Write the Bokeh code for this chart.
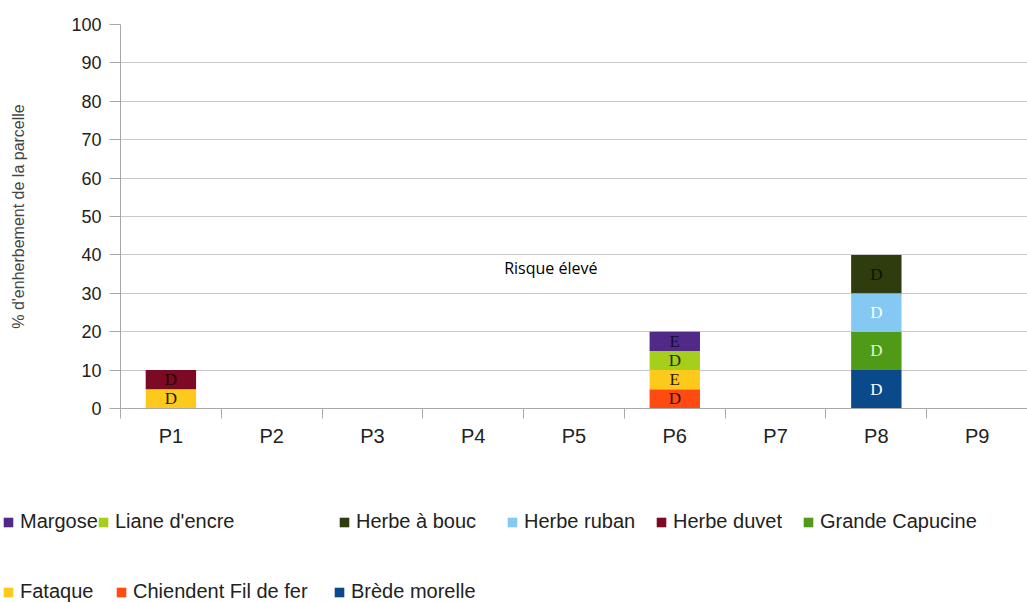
from bokeh.plotting import figure
from bokeh.layouts import column
from bokeh.models import (Range1d, LinearAxis, FixedTicker,
                          Legend, LegendItem, Label, ColumnDataSource, SingleIntervalTicker)
from bokeh.core.properties import value
from bokeh.embed import file_html
from bokeh.resources import INLINE

# ---------------- data ----------------
parcels = ["P1", "P2", "P3", "P4", "P5", "P6", "P7", "P8", "P9"]

# stacking order (bottom -> top)
species = ["Brède morelle", "Chiendent Fil de fer", "Fataque", "Grande Capucine",
           "Herbe duvet", "Herbe ruban", "Herbe à bouc", "Liane d'encre", "Margose"]

brede_morelle   = [0, 0, 0, 0, 0, 0, 0, 10, 0]
chiendent       = [0, 0, 0, 0, 0, 5, 0, 0, 0]
fataque         = [5, 0, 0, 0, 0, 5, 0, 0, 0]
grande_capucine = [0, 0, 0, 0, 0, 0, 0, 10, 0]
herbe_duvet     = [5, 0, 0, 0, 0, 0, 0, 0, 0]
herbe_ruban     = [0, 0, 0, 0, 0, 0, 0, 10, 0]
herbe_a_bouc    = [0, 0, 0, 0, 0, 0, 0, 10, 0]
liane_encre     = [0, 0, 0, 0, 0, 5, 0, 0, 0]
margose         = [0, 0, 0, 0, 0, 5, 0, 0, 0]

# codes written inside the segments
brede_code     = ["", "", "", "", "", "", "", "D", ""]
chiendent_code = ["", "", "", "", "", "D", "", "", ""]
fataque_code   = ["D", "", "", "", "", "E", "", "", ""]
capucine_code  = ["", "", "", "", "", "", "", "D", ""]
duvet_code     = ["D", "", "", "", "", "", "", "", ""]
ruban_code     = ["", "", "", "", "", "", "", "D", ""]
bouc_code      = ["", "", "", "", "", "", "", "D", ""]
liane_code     = ["", "", "", "", "", "D", "", "", ""]
margose_code   = ["", "", "", "", "", "E", "", "", ""]

colors = ["#0b4a8a", "#ff4a12", "#fdca1c", "#4f9b17", "#7c0a24",
          "#84c9f4", "#2f3d0e", "#a6cf1b", "#502a86"]
code_colors = ["#ffffff", "#2a1200", "#2a1a00", "#e4f6cf", "#1e0606",
               "#ffffff", "#0e1404", "#1e2a00", "#1a0a30"]

legend_row1 = ["Margose", "Liane d'encre", "Herbe à bouc", "Herbe ruban",
               "Herbe duvet", "Grande Capucine"]
legend_row2 = ["Fataque", "Chiendent Fil de fer", "Brède morelle"]

annotation_text = "Risque élevé"
y_axis_title = "% d'enherbement de la parcelle"

# ---------------- build ----------------
values = [brede_morelle, chiendent, fataque, grande_capucine, herbe_duvet,
          herbe_ruban, herbe_a_bouc, liane_encre, margose]
codes = [brede_code, chiendent_code, fataque_code, capucine_code, duvet_code,
         ruban_code, bouc_code, liane_code, margose_code]

centers = [i + 0.5 for i in range(len(parcels))]
data = {"xc": centers}
for name, vals in zip(species, values):
    data[name] = vals
source = ColumnDataSource(data)

FONT = "Liberation Sans"

p = figure(width=1027, height=460, x_range=Range1d(0, len(parcels)), y_range=Range1d(0, 100),
           output_backend="svg", toolbar_location=None,
           min_border_left=120, min_border_top=24, min_border_bottom=52, min_border_right=0)
p.outline_line_color = None
p.xgrid.grid_line_color = None
p.ygrid.grid_line_color = "#c8c8c8"
p.ygrid.grid_line_width = 1

# y axis
p.yaxis.ticker = SingleIntervalTicker(interval=10, num_minor_ticks=0)
p.yaxis.major_tick_out = 11
p.yaxis.major_tick_in = 0
p.yaxis.minor_tick_line_color = None
p.yaxis.axis_line_color = "#a8a8a8"
p.yaxis.major_tick_line_color = "#a8a8a8"
p.yaxis.major_label_standoff = 8
p.yaxis.major_label_text_font = FONT
p.yaxis.major_label_text_font_size = "18px"
p.yaxis.major_label_text_color = "#222222"
p.yaxis.axis_label = y_axis_title
p.yaxis.axis_label_text_font = FONT
p.yaxis.axis_label_text_font_size = "16px"
p.yaxis.axis_label_text_font_style = "normal"
p.yaxis.axis_label_text_color = "#444444"
p.yaxis.axis_label_standoff = 41

# x axis: boundary ticks (default axis) + category labels (second axis)
xa = p.xaxis[0]
xa.ticker = FixedTicker(ticks=list(range(len(parcels) + 1)))
xa.major_tick_out = 10
xa.major_tick_in = 0
xa.minor_tick_line_color = None
xa.axis_line_color = "#a8a8a8"
xa.major_tick_line_color = "#a8a8a8"
xa.major_label_text_font_size = "1px"
xa.major_label_text_color = None
xa.major_label_standoff = 0

cat_axis = LinearAxis(ticker=FixedTicker(ticks=centers),
                      major_label_overrides={c: name for c, name in zip(centers, parcels)},
                      axis_line_color=None, major_tick_line_color=None,
                      minor_tick_line_color=None,
                      major_tick_out=0, major_tick_in=0,
                      major_label_standoff=6,
                      major_label_text_font=FONT,
                      major_label_text_font_size="20px",
                      major_label_text_color="#222222")
p.add_layout(cat_axis, "below")

# stacked bars
renderers = p.vbar_stack(species, x="xc", width=0.5, color=colors,
                         line_color=None, source=source)

# codes in the segments
tx, ty, tt, tc = [], [], [], []
base = [0.0] * len(parcels)
for vals, cds, ccol in zip(values, codes, code_colors):
    for i, (v, c) in enumerate(zip(vals, cds)):
        if v > 0 and c:
            tx.append(centers[i])
            ty.append(base[i] + v / 2.0)
            tt.append(c)
            tc.append(ccol)
        base[i] += v
p.text(x="x", y="y", text="t", text_color="c",
       source=ColumnDataSource(dict(x=tx, y=ty, t=tt, c=tc)),
       text_font=value("Liberation Serif"), text_font_size="17px",
       text_align="center", text_baseline="middle")

# annotation
p.add_layout(Label(x=4.27, y=36.5, text=annotation_text, text_font="Open Sans",
                   text_font_size="16px", text_color="#000000",
                   text_align="center", text_baseline="middle"))

# ---------------- legend strip (separate figure below the chart) ----------------
lg = figure(width=1027, height=143, x_range=Range1d(0, len(parcels)),
            y_range=Range1d(1000, 1001),   # view kept away from the bars: only swatches show
            output_backend="svg", toolbar_location=None,
            x_axis_location=None, y_axis_location=None,
            min_border=0, min_border_left=0, min_border_right=0,
            min_border_top=0, min_border_bottom=0)
lg.outline_line_color = None
lg.grid.visible = False

shift = 0
try:
    p.frame_align = False
    lg.frame_align = False
except (AttributeError, ValueError):
    shift = 120

swatches = lg.vbar_stack(species, x="xc", width=0.5, color=colors,
                         line_color=None, source=source)
swatch = dict(zip(species, swatches))

row1_x = [2, 97, 338, 506, 655, 802]
row2_x = [2, 115, 333]
placements = [(legend_row1, row1_x, 70), (legend_row2, row2_x, 0)]
for names, xs, vy in placements:
    for name, vx in zip(names, xs):
        leg = Legend(items=[LegendItem(label=name, renderers=[swatch[name]])],
                     location=(vx - shift, vy), orientation="horizontal",
                     glyph_width=12, glyph_height=12, label_standoff=6,
                     padding=0, margin=0, spacing=0,
                     border_line_color=None, background_fill_alpha=0,
                     label_text_font=FONT, label_text_font_size="20px",
                     label_text_color="#222222", label_height=20)
        lg.add_layout(leg)

layout = column(p, lg, spacing=0)
open("out.html", "w").write(file_html(layout, INLINE))
